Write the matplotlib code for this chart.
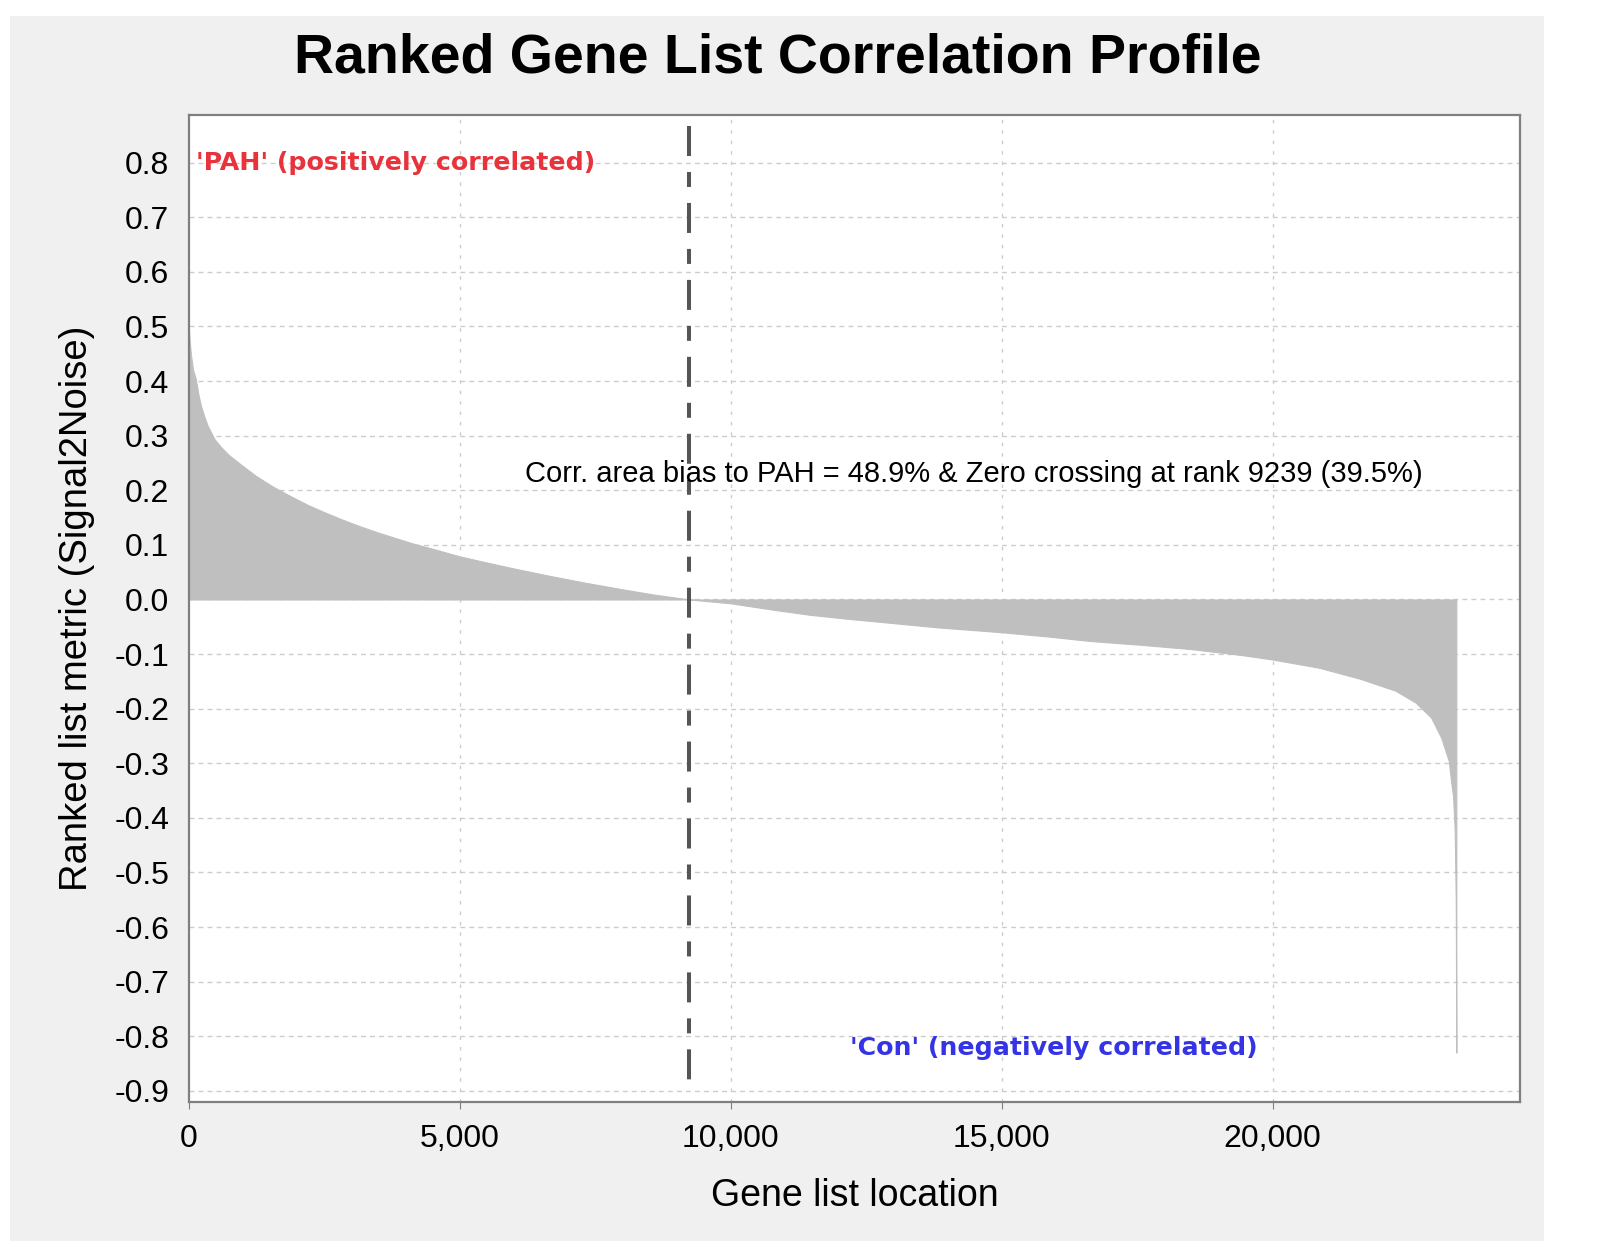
import matplotlib
matplotlib.use('Agg')
import matplotlib.pyplot as plt
from matplotlib.patches import Rectangle

plt.rcParams['font.family'] = ['Liberation Sans', 'DejaVu Sans']
plt.rcParams['lines.scale_dashes'] = False

# ranked list metric (rank, Signal2Noise)
ranks = [0, 20, 45, 80, 128, 180, 224, 287, 350, 479, 607, 734, 926, 1245,
         1565, 1884, 2200, 2522, 2842, 3161, 3480, 3800, 4120, 4438, 5000,
         5396, 6035, 6673, 7300, 7950, 8580, 9239, 10000, 10799, 11457, 12115,
         12867, 13806, 15000, 15874, 16626, 17566, 18506, 19445, 20000, 20855,
         21607, 22265, 22641, 22923, 23111, 23252, 23290, 23330, 23360, 23380,
         23390]
metric = [0.50, 0.47, 0.445, 0.42, 0.405, 0.375, 0.355, 0.335, 0.318, 0.293,
          0.278, 0.265, 0.25, 0.226, 0.206, 0.189, 0.173, 0.159, 0.146, 0.134,
          0.123, 0.113, 0.103, 0.0945, 0.079, 0.070, 0.056, 0.043, 0.031,
          0.0195, 0.009, 0.0, -0.007, -0.019, -0.028, -0.035, -0.042, -0.051,
          -0.060, -0.068, -0.076, -0.083, -0.091, -0.102, -0.110, -0.125,
          -0.145, -0.167, -0.189, -0.216, -0.253, -0.296, -0.33, -0.36, -0.42,
          -0.55, -0.83]

zero_cross = 9239
xticks = [0, 5000, 10000, 15000, 20000]
xtick_labels = ['0', '5,000', '10,000', '15,000', '20,000']
yticks = [round(-0.9 + 0.1 * i, 1) for i in range(18)]
ytick_labels = ['%.1f' % v if v != 0 else '0.0' for v in yticks]

fig = plt.figure(figsize=(16.13, 12.52), dpi=100, facecolor='white')
fig.patches.append(Rectangle((0.0065, 0.009), 0.951, 0.978, transform=fig.transFigure,
                             facecolor='#f0f0f0', edgecolor='none', zorder=-10))

ax = fig.add_axes([0.117, 0.120, 0.8256, 0.788])
ax.set_facecolor('white')
ax.set_axisbelow(True)

ax.fill_between(ranks, metric, 0, facecolor='#bfbfbf', edgecolor='#bfbfbf', lw=0.8, zorder=2)
# zero crossing marker, dashes start at the top like in the original
ax.plot([zero_cross, zero_cross], [0.868, -0.9], color='#555555', linewidth=2.9,
        linestyle=(0, (21.6, 11.5, 10.8, 11.5)), zorder=3)

ax.set_xlim(0, 24573)
ax.set_ylim(-0.92, 0.887)
ax.set_xticks(xticks)
ax.set_xticklabels(xtick_labels)
ax.set_yticks(yticks)
ax.set_yticklabels(ytick_labels)

# grid: dashed horizontal, finer dashed vertical
for y in yticks:
    ax.axhline(y, color='#cccccc', lw=1.0, linestyle=(0, (3.5, 3)), zorder=0)
for x in xticks[1:]:
    ax.axvline(x, color='#cccccc', lw=1.0, linestyle=(0, (2.5, 5)), zorder=0)

for sp in ax.spines.values():
    sp.set_color('#808080')
    sp.set_linewidth(1.6)

ax.tick_params(axis='x', length=5, color='#808080', labelsize=23, pad=11)
ax.tick_params(axis='y', length=0, labelsize=23, pad=14)

ax.set_xlabel('Gene list location', fontsize=27, labelpad=17)
ax.set_ylabel('Ranked list metric (Signal2Noise)', fontsize=27.5, labelpad=14)

fig.text(0.482, 0.953, 'Ranked Gene List Correlation Profile', fontsize=40,
         fontweight='bold', ha='center', va='center')

ax.text(130, 0.80, "'PAH' (positively correlated)", color='#e8323c', fontsize=18.2,
        fontweight='bold', family=['DejaVu Sans'], ha='left', va='center')
ax.text(12200, -0.822, "'Con' (negatively correlated)", color='#3434e6', fontsize=18.2,
        fontweight='bold', family=['DejaVu Sans'], ha='left', va='center')
ax.text(6205, 0.229, 'Corr. area bias to PAH = 48.9% & Zero crossing at rank 9239 (39.5%)',
        fontsize=21, ha='left', va='center', zorder=4)

fig.savefig('out.png', dpi=100, facecolor=fig.get_facecolor())
